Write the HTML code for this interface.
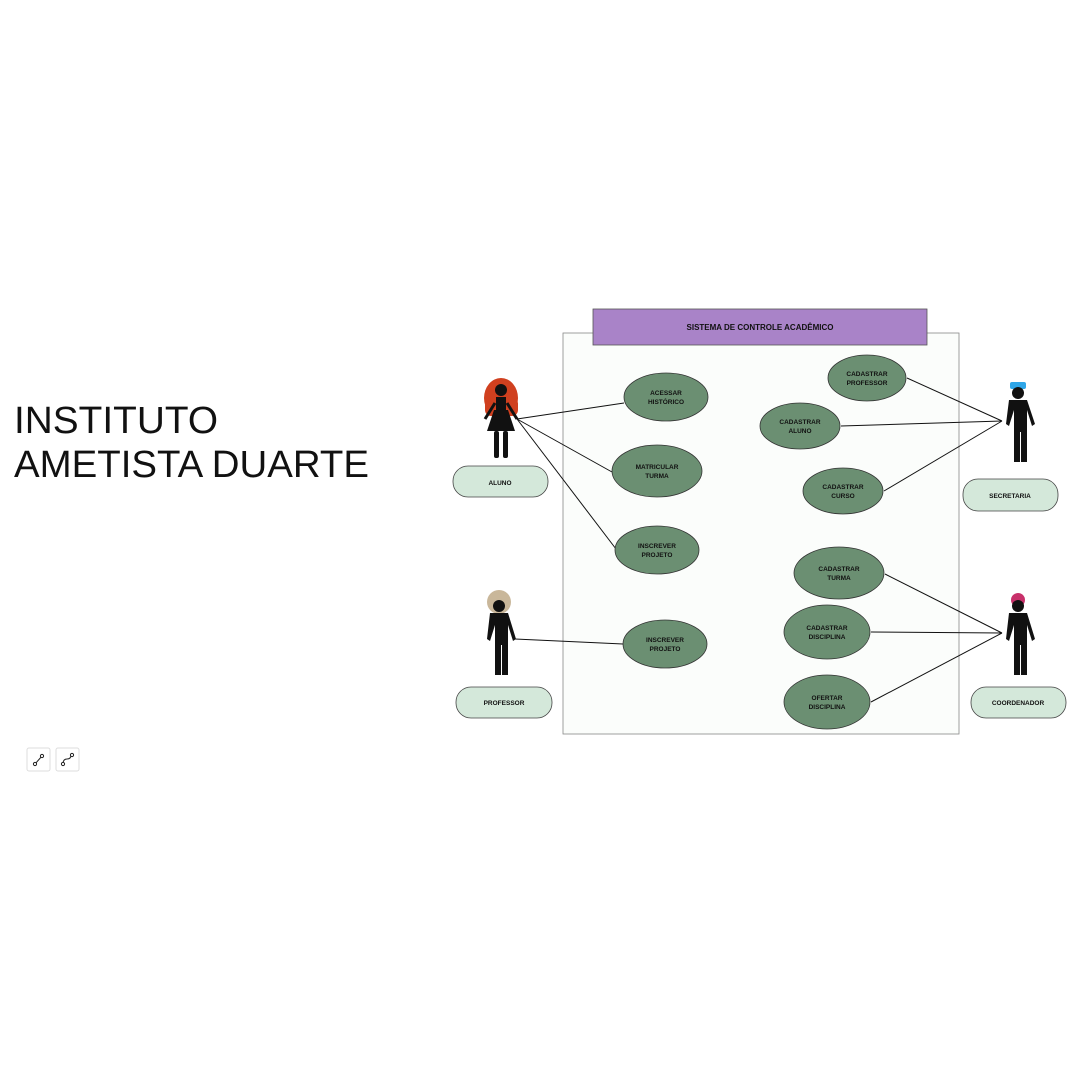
<!DOCTYPE html>
<html><head><meta charset="utf-8"><style>
html,body{margin:0;padding:0;background:#fff;}
svg{display:block;}
.t{font-family:"Liberation Sans",sans-serif;font-weight:bold;font-size:6.5px;fill:#111;text-anchor:middle;}
</style></head><body>
<svg width="1080" height="1080" viewBox="0 0 1080 1080" xmlns="http://www.w3.org/2000/svg">
<rect width="1080" height="1080" fill="#fff"/>
<text x="14" y="433" font-family="Liberation Sans, sans-serif" font-size="38" fill="#111" textLength="204" lengthAdjust="spacingAndGlyphs">INSTITUTO</text>
<text x="14" y="477" font-family="Liberation Sans, sans-serif" font-size="38" fill="#111" textLength="355" lengthAdjust="spacingAndGlyphs">AMETISTA DUARTE</text>

<rect x="563" y="333" width="396" height="401" fill="#fbfdfb" stroke="#888" stroke-width="0.8"/>
<rect x="593" y="309" width="334" height="36" fill="#a983c8" stroke="#555" stroke-width="0.8"/>
<text x="760" y="330" class="t" style="font-size:8px">SISTEMA DE CONTROLE ACADÊMICO</text>

<g stroke="#111" stroke-width="1">
<line x1="517" y1="419" x2="624" y2="403"/>
<line x1="517" y1="419" x2="612" y2="472"/>
<line x1="517" y1="419" x2="616" y2="549"/>
<line x1="1002" y1="421" x2="907" y2="378"/>
<line x1="1002" y1="421" x2="841" y2="426"/>
<line x1="1002" y1="421" x2="884" y2="491"/>
<line x1="515" y1="639" x2="623" y2="644"/>
<line x1="1002" y1="633" x2="885" y2="574"/>
<line x1="1002" y1="633" x2="871" y2="632"/>
<line x1="1002" y1="633" x2="871" y2="702"/>
</g>

<g fill="#6b8f72" stroke="#333" stroke-width="0.8">
<ellipse cx="666" cy="397" rx="42" ry="24"/>
<ellipse cx="657" cy="471" rx="45" ry="26"/>
<ellipse cx="657" cy="550" rx="42" ry="24"/>
<ellipse cx="665" cy="644" rx="42" ry="24"/>
<ellipse cx="867" cy="378" rx="39" ry="23"/>
<ellipse cx="800" cy="426" rx="40" ry="23"/>
<ellipse cx="843" cy="491" rx="40" ry="23"/>
<ellipse cx="839" cy="573" rx="45" ry="26"/>
<ellipse cx="827" cy="632" rx="43" ry="27"/>
<ellipse cx="827" cy="702" rx="43" ry="27"/>
</g>
<g class="t">
<text x="666" y="395" class="t">ACESSAR</text><text x="666" y="404" class="t">HISTÓRICO</text>
<text x="657" y="469" class="t">MATRICULAR</text><text x="657" y="478" class="t">TURMA</text>
<text x="657" y="548" class="t">INSCREVER</text><text x="657" y="557" class="t">PROJETO</text>
<text x="665" y="642" class="t">INSCREVER</text><text x="665" y="651" class="t">PROJETO</text>
<text x="867" y="376" class="t">CADASTRAR</text><text x="867" y="385" class="t">PROFESSOR</text>
<text x="800" y="424" class="t">CADASTRAR</text><text x="800" y="433" class="t">ALUNO</text>
<text x="843" y="489" class="t">CADASTRAR</text><text x="843" y="498" class="t">CURSO</text>
<text x="839" y="571" class="t">CADASTRAR</text><text x="839" y="580" class="t">TURMA</text>
<text x="827" y="630" class="t">CADASTRAR</text><text x="827" y="639" class="t">DISCIPLINA</text>
<text x="827" y="700" class="t">OFERTAR</text><text x="827" y="709" class="t">DISCIPLINA</text>
</g>

<g fill="#d4e8da" stroke="#444" stroke-width="0.8">
<rect x="453" y="466" width="95" height="31" rx="15"/>
<rect x="963" y="479" width="95" height="32" rx="15"/>
<rect x="456" y="687" width="96" height="31" rx="15"/>
<rect x="971" y="687" width="95" height="31" rx="15"/>
</g>
<text x="500" y="485" class="t">ALUNO</text>
<text x="1010" y="498" class="t">SECRETARIA</text>
<text x="504" y="705" class="t">PROFESSOR</text>
<text x="1018" y="705" class="t">COORDENADOR</text>

<!-- Aluno (red hair, dress) -->
<g>
<ellipse cx="501" cy="398" rx="17" ry="20" fill="#d0401f"/>
<rect x="485" y="398" width="33" height="18" rx="6" fill="#d0401f"/>
<circle cx="501" cy="390" r="6" fill="#111"/>
<rect x="496" y="397" width="10" height="14" fill="#111"/>
<polygon points="494,410 508,410 515,431 487,431" fill="#111"/>
<line x1="495" y1="403" x2="485" y2="419" stroke="#111" stroke-width="3"/>
<line x1="507" y1="403" x2="517" y2="419" stroke="#111" stroke-width="3"/>
<rect x="494" y="431" width="5" height="27" rx="2" fill="#111"/>
<rect x="503" y="431" width="5" height="27" rx="2" fill="#111"/>
</g>

<!-- Secretaria -->
<g fill="#111">
<rect x="1010" y="382" width="16" height="7" rx="2" fill="#2fa6e8"/>
<circle cx="1018" cy="393" r="6"/>
<path d="M1009 400 h18 l8 24 -3 2 -5 -16 v52 h-6 v-30 h-1 v30 h-6 v-52 l-5 16 -3 -2z"/>
</g>

<!-- Professor -->
<g fill="#111">
<circle cx="499" cy="602" r="12" fill="#c9b79a"/>
<circle cx="499" cy="606" r="6"/>
<path d="M490 613 h18 l8 26 -3 2 -5 -16 v50 h-6 v-30 h-1 v30 h-6 v-50 l-5 16 -3 -2z"/>
</g>

<!-- Coordenador -->
<g fill="#111">
<circle cx="1018" cy="600" r="7" fill="#c8306a"/>
<circle cx="1018" cy="606" r="6"/>
<path d="M1009 613 h18 l8 26 -3 2 -5 -16 v50 h-6 v-30 h-1 v30 h-6 v-50 l-5 16 -3 -2z"/>
</g>

<!-- small icons -->
<rect x="27" y="748" width="23" height="23" rx="2" fill="#fff" stroke="#ddd"/>
<rect x="56" y="748" width="23" height="23" rx="2" fill="#fff" stroke="#ddd"/>
<g stroke="#222" stroke-width="1" fill="none">
<line x1="35" y1="764" x2="42" y2="756"/><circle cx="35" cy="764" r="1.6" fill="#fff"/><circle cx="42" cy="756" r="1.6" fill="#fff"/>
<path d="M63 764 q0 -5 4 -5 q4 0 4 -4"/><circle cx="63" cy="764" r="1.6" fill="#fff"/><circle cx="72" cy="755" r="1.6" fill="#fff"/>
</g>
</svg>
</body></html>
